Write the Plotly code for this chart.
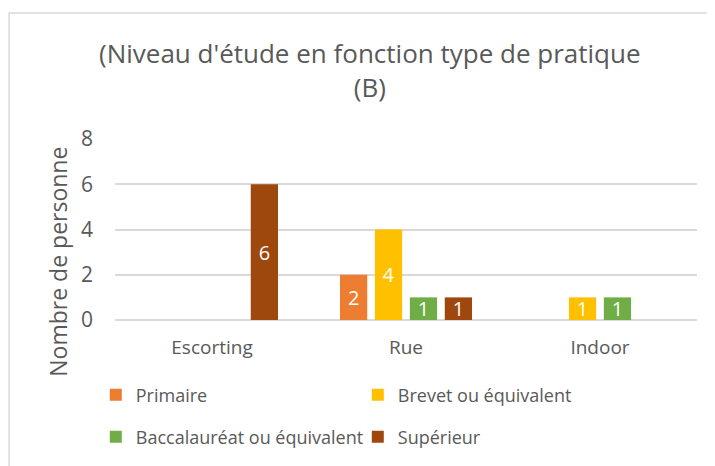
import plotly.graph_objects as go

categories = ["Escorting", "Rue", "Indoor"]
series_names = ["Primaire", "Brevet ou équivalent", "Baccalauréat ou équivalent", "Supérieur"]
primaire = [None, 2, None]
brevet = [None, 4, 1]
bac = [None, 1, 1]
superieur = [6, 1, None]
colors = ["#ED7D31", "#FFC000", "#70AD47", "#9E480E"]
y_ticks = [0, 2, 4, 6, 8]

FONT = "Open Sans"
GREY = "#595959"

fig = go.Figure()
legends = ["legend", "legend", "legend2", "legend2"]
for name, vals, col, lg in zip(series_names, [primaire, brevet, bac, superieur], colors, legends):
    fig.add_trace(go.Bar(
        x=categories, y=vals, name=name, marker=dict(color=col, line=dict(width=0)),
        text=[("" if v is None else str(v)) for v in vals],
        textposition="inside", insidetextanchor="middle", constraintext="none", textangle=0,
        textfont=dict(color="white", size=20, family=FONT),
        cliponaxis=False, legend=lg,
    ))

# chart frame
fig.add_shape(type="rect", xref="paper", yref="paper", x0=-0.182, x1=1.2, y0=-1.0, y1=1.696,
              line=dict(color="#d9d9d9", width=1.5), fillcolor="rgba(0,0,0,0)", layer="below")

fig.add_annotation(text="Nombre de personne", xref="paper", yref="paper", x=-0.0986, y=0.32,
                   textangle=-90, showarrow=False, font=dict(family=FONT, size=23, color=GREY),
                   xanchor="center", yanchor="middle")

leg_common = dict(orientation="h", xanchor="left", yanchor="middle",
                  entrywidth=217, entrywidthmode="pixels", traceorder="normal",
                  font=dict(size=18, color=GREY, family=FONT), itemsizing="constant",
                  tracegroupgap=0, bgcolor="rgba(0,0,0,0)")

fig.update_layout(
    width=715, height=466,
    margin=dict(l=107, r=26, t=131, b=154, autoexpand=False),
    paper_bgcolor="white", plot_bgcolor="white",
    title=dict(text="(Niveau d'étude en fonction type de pratique<br>(B)", x=0.506, xanchor="center",
               y=0.881, yanchor="middle", font=dict(family=FONT, size=26, color=GREY)),
    barmode="group", bargap=0.28, bargroupgap=0.22,
    font=dict(family=FONT, color=GREY),
    xaxis=dict(showgrid=False, showline=False, ticks="", tickfont=dict(size=19, color=GREY, family=FONT),
               ticklabelstandoff=14),
    yaxis=dict(range=[0, 8], tickvals=y_ticks, showgrid=True, gridcolor="#d9d9d9", gridwidth=1.5,
               zeroline=True, zerolinecolor="#d9d9d9", zerolinewidth=1.5,
               tickfont=dict(size=21, color=GREY, family=FONT), ticklen=0, ticks="", ticklabelstandoff=21),
    legend=dict(x=-0.033, y=(320 - 395) / 181, **leg_common),
    legend2=dict(x=-0.033, y=(320 - 437) / 181, **leg_common),
)

fig.write_html("out.html")
